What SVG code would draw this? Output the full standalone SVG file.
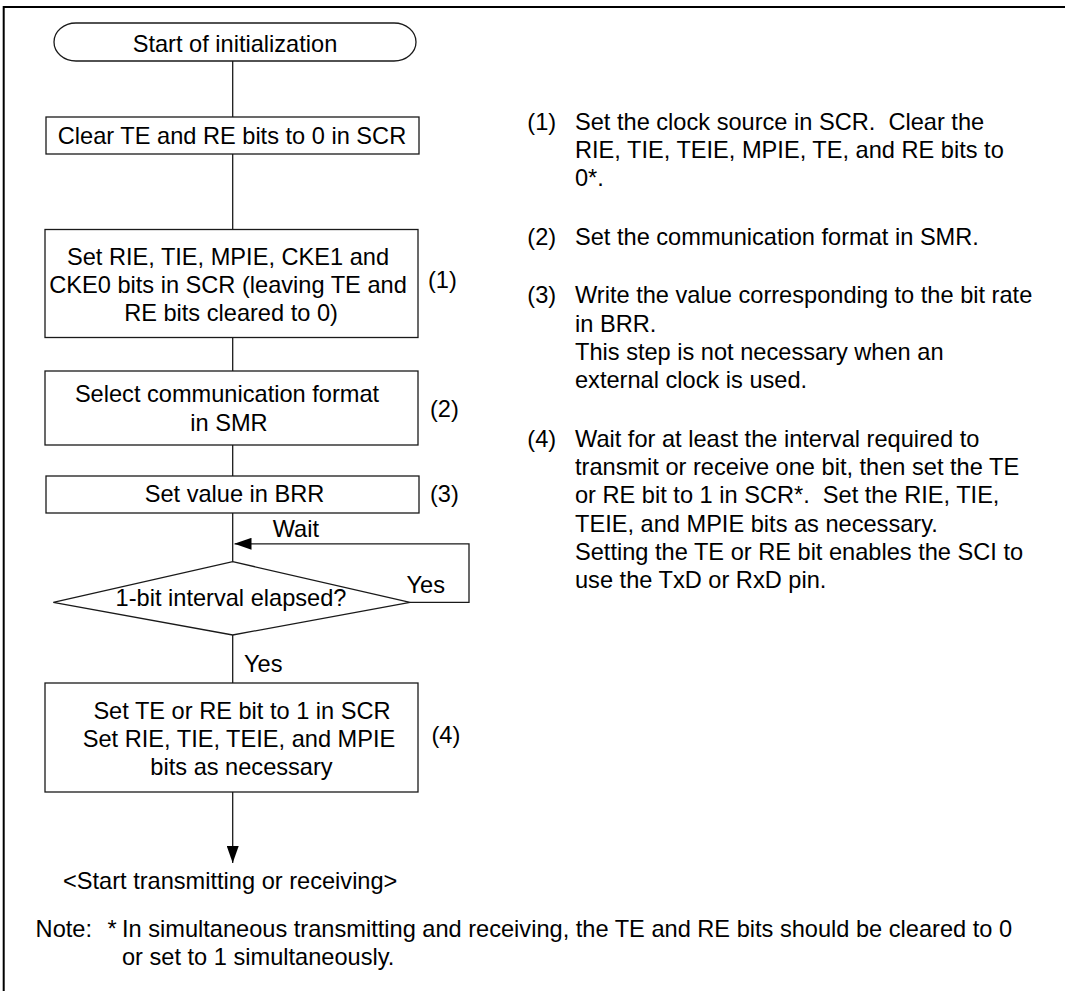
<svg xmlns="http://www.w3.org/2000/svg" width="1065" height="991" viewBox="0 0 1065 991">
<defs>
<style>
text{font-family:"Liberation Sans",Arial,sans-serif;font-size:23.6px;fill:#000;white-space:pre}
.c{text-anchor:middle}
.shape{fill:#fff;stroke:#1a1a1a;stroke-width:1.3}
.conn{fill:none;stroke:#1a1a1a;stroke-width:1.3}
.frame{fill:none;stroke:#000;stroke-width:2}
</style>
<marker id="arr" markerUnits="userSpaceOnUse" markerWidth="17" markerHeight="12" refX="17" refY="6" orient="auto">
<path d="M0,0 L17,6 L0,12 z" fill="#000"/>
</marker>
</defs>
<rect width="1065" height="991" fill="#fff"/>
<g id="frame">
<path class="frame" d="M3.7,991 V7 H1065"/>
</g>
<g id="connectors">
<line class="conn" x1="232.7" y1="61" x2="232.7" y2="117"/>
<line class="conn" x1="232.7" y1="154" x2="232.7" y2="229.5"/>
<line class="conn" x1="232.7" y1="337.5" x2="232.7" y2="371"/>
<line class="conn" x1="232.7" y1="445" x2="232.7" y2="476"/>
<line class="conn" x1="232.7" y1="513" x2="232.7" y2="561.7"/>
<path class="conn" d="M410,602.3 H469 V543.8 H234.5" marker-end="url(#arr)"/>
<line class="conn" x1="232.7" y1="635" x2="232.7" y2="683"/>
<line class="conn" x1="232.7" y1="792" x2="232.7" y2="863" marker-end="url(#arr)"/>
<text x="272.7" y="537.3">Wait</text>
<text x="406.5" y="593.3">Yes</text>
<text x="244" y="671.7">Yes</text>
</g>
<g id="start">
<rect class="shape" x="54" y="23" width="362" height="38" rx="22" ry="19"/>
<text class="c" x="235" y="52">Start of initialization</text>
</g>
<g id="clear">
<rect class="shape" x="46" y="117" width="373" height="37"/>
<text class="c" x="232" y="144">Clear TE and RE bits to 0 in SCR</text>
</g>
<g id="setrie">
<rect class="shape" x="45" y="229.5" width="373" height="108"/>
<text class="c" x="228" y="265">Set RIE, TIE, MPIE, CKE1 and</text>
<text class="c" x="228" y="293.3">CKE0 bits in SCR (leaving TE and</text>
<text class="c" x="231" y="321">RE bits cleared to 0)</text>
<text x="428" y="288">(1)</text>
</g>
<g id="select">
<rect class="shape" x="45" y="371" width="373" height="74"/>
<text class="c" x="227" y="401.7">Select communication format</text>
<text class="c" x="229" y="431">in SMR</text>
<text x="430" y="416.7">(2)</text>
</g>
<g id="brr">
<rect class="shape" x="46" y="476" width="373" height="37"/>
<text class="c" x="234.5" y="501.7">Set value in BRR</text>
<text x="430" y="501.7">(3)</text>
</g>
<g id="decision">
<polygon class="shape" points="232.7,561.7 410,602.3 232.7,635 53.3,602.3"/>
<text class="c" x="231" y="606">1-bit interval elapsed?</text>
</g>
<g id="sette">
<rect class="shape" x="45" y="683" width="373" height="109"/>
<text class="c" x="242" y="719">Set TE or RE bit to 1 in SCR</text>
<text class="c" x="239" y="746.7">Set RIE, TIE, TEIE, and MPIE</text>
<text class="c" x="241.5" y="775">bits as necessary</text>
<text x="431.5" y="743">(4)</text>
</g>
<g id="end">
<text x="63" y="889.3">&lt;Start transmitting or receiving&gt;</text>
</g>
<g id="notes">
<text x="527.3" y="130">(1)</text>
<text x="575" y="130">Set the clock source in SCR.  Clear the</text>
<text x="575" y="158.3">RIE, TIE, TEIE, MPIE, TE, and RE bits to</text>
<text x="575" y="186">0*.</text>
<text x="527.3" y="245">(2)</text>
<text x="575" y="245">Set the communication format in SMR.</text>
<text x="527.3" y="303.3">(3)</text>
<text x="575" y="303.3">Write the value corresponding to the bit rate</text>
<text x="575" y="331.7">in BRR.</text>
<text x="575" y="360">This step is not necessary when an</text>
<text x="575" y="388.3">external clock is used.</text>
<text x="527.3" y="446.7">(4)</text>
<text x="575" y="446.7">Wait for at least the interval required to</text>
<text x="575" y="475">transmit or receive one bit, then set the TE</text>
<text x="575" y="503.3">or RE bit to 1 in SCR*.  Set the RIE, TIE,</text>
<text x="575" y="531.7">TEIE, and MPIE bits as necessary.</text>
<text x="575" y="560">Setting the TE or RE bit enables the SCI to</text>
<text x="575" y="588.3">use the TxD or RxD pin.</text>
</g>
<g id="footnote">
<text x="35.6" y="936.7">Note:</text>
<text x="107.5" y="936.7">*</text>
<text x="122" y="936.7">In simultaneous transmitting and receiving, the TE and RE bits should be cleared to 0</text>
<text x="122" y="965">or set to 1 simultaneously.</text>
</g>
</svg>
